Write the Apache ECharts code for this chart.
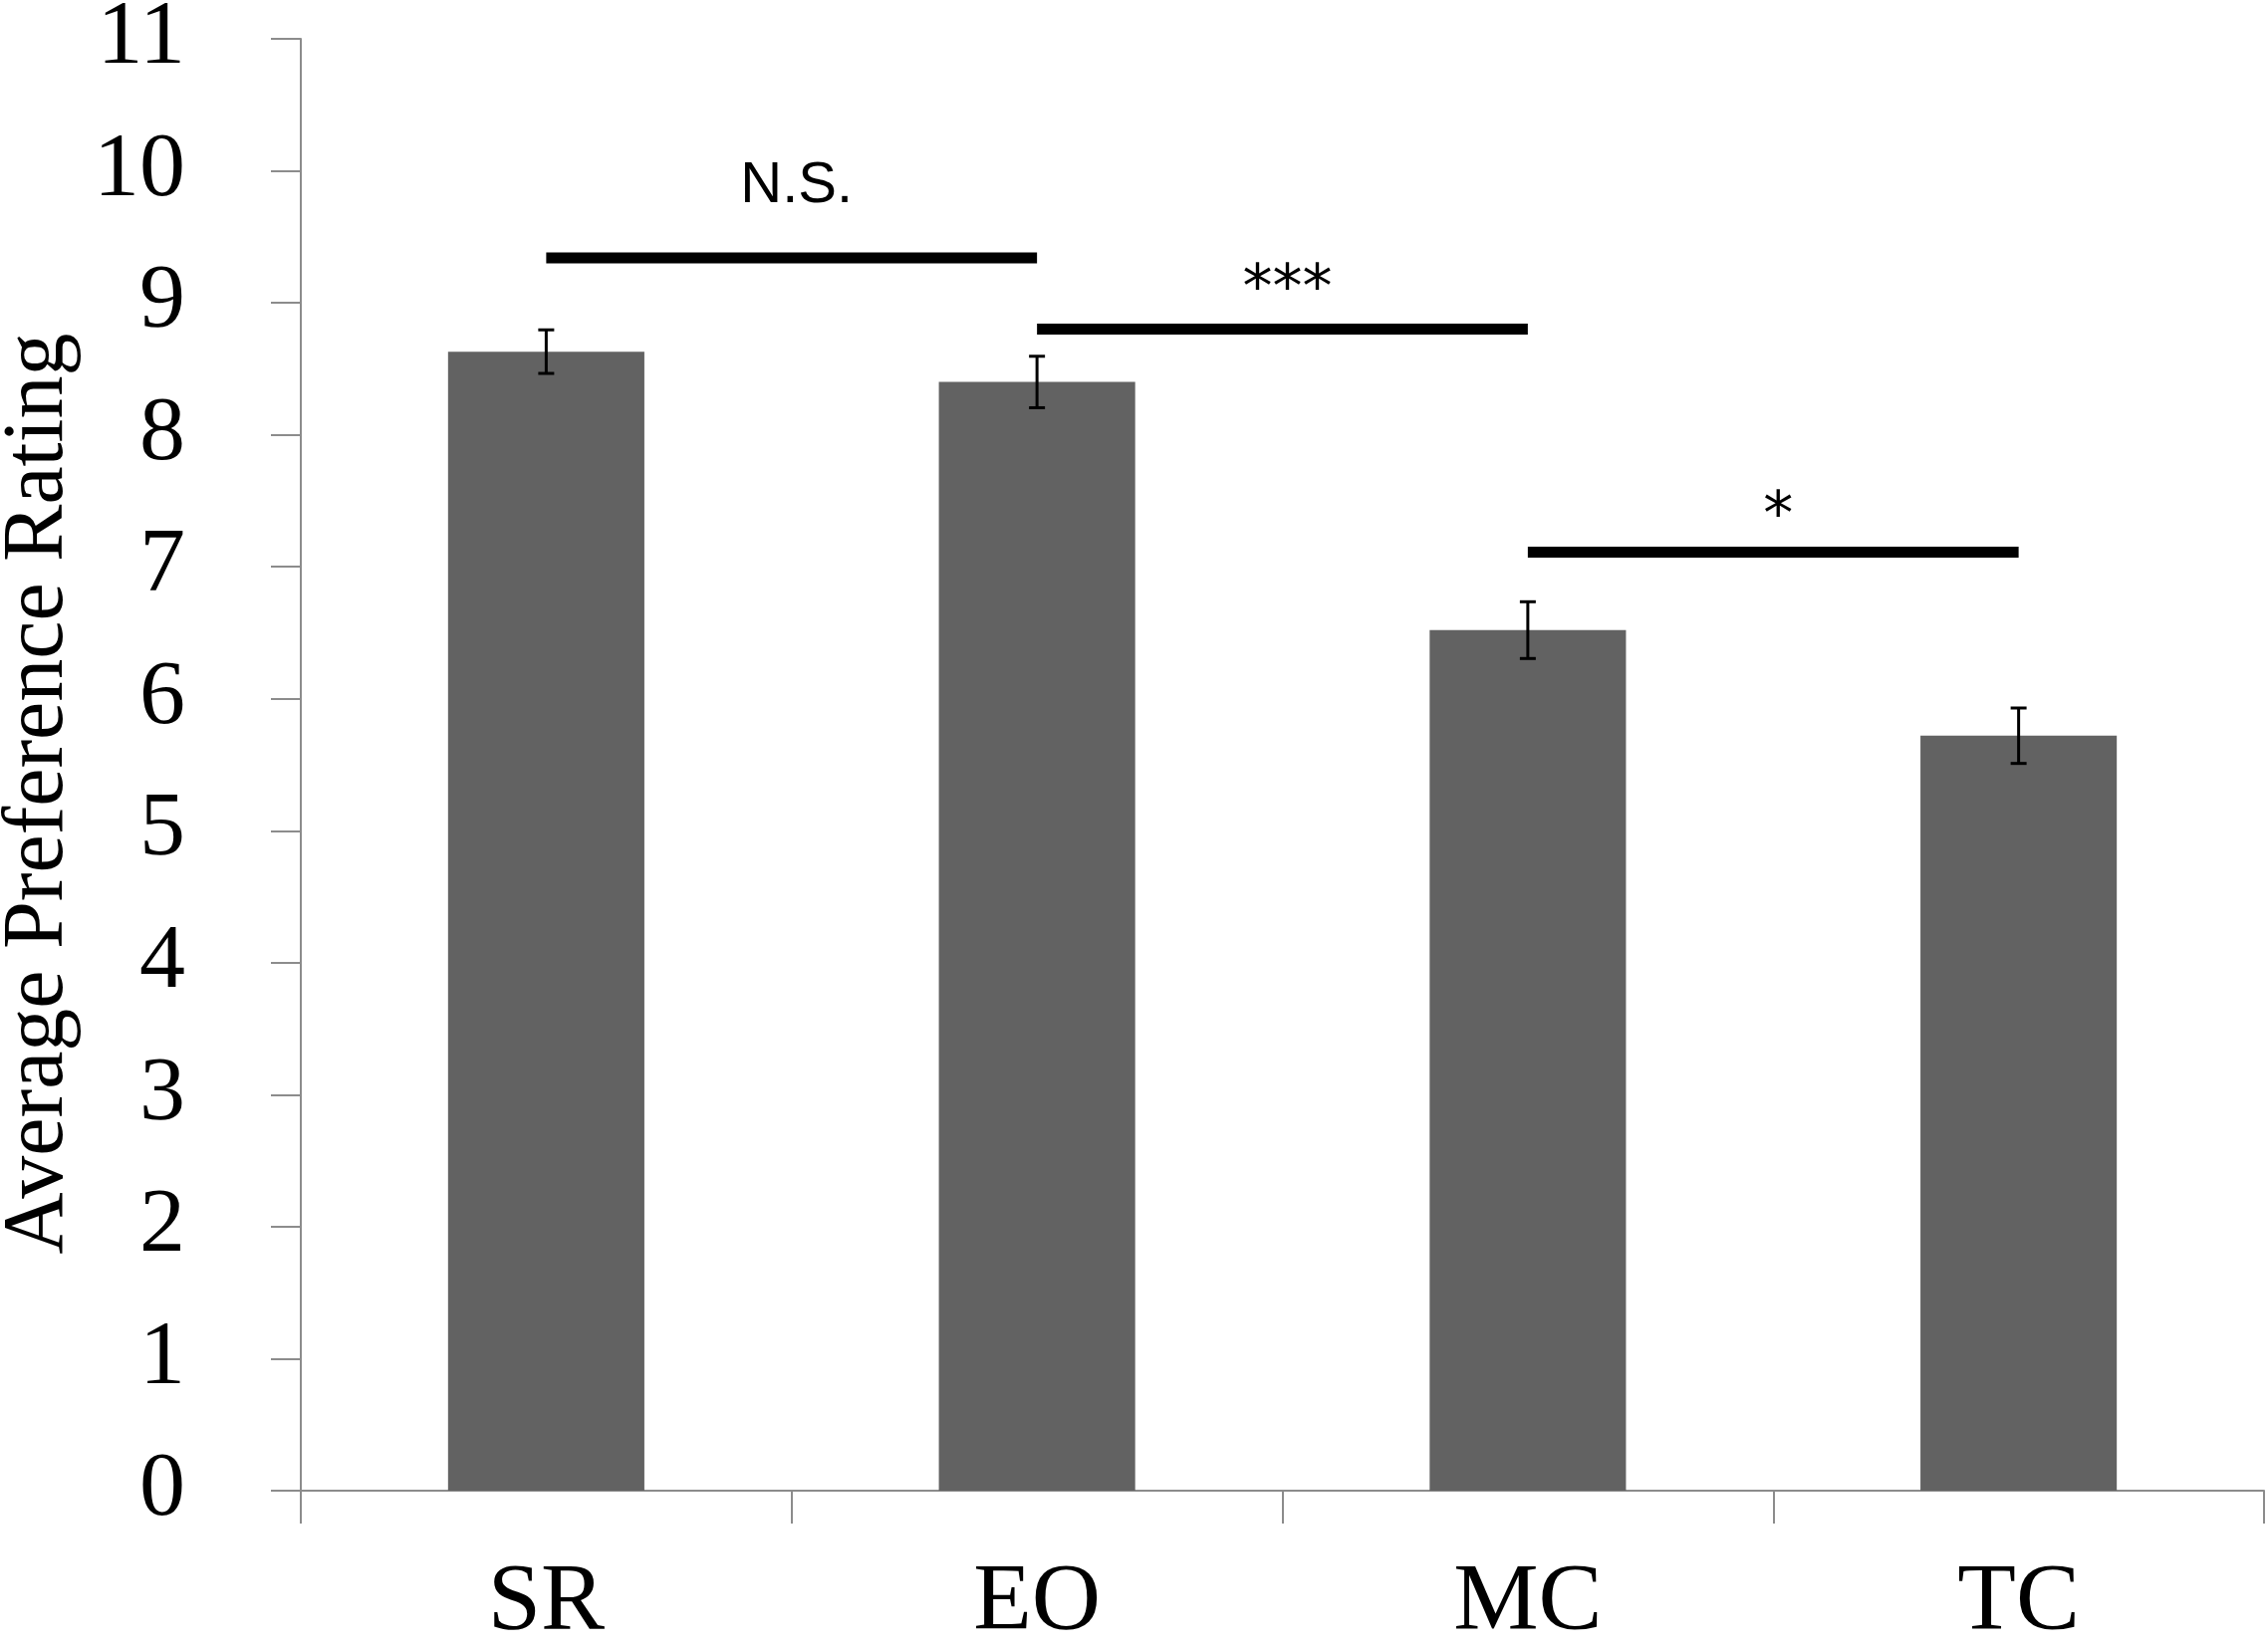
<!DOCTYPE html>
<html>
<head>
<meta charset="utf-8">
<script src="https://cdn.jsdelivr.net/npm/echarts@6/dist/echarts.min.js"></script>
<style>
html,body{margin:0;padding:0;background:#fff;}
#chart{width:2277px;height:1657px;}
</style>
</head>
<body>
<div id="chart"></div>
<script>
var categories = ['SR', 'EO', 'MC', 'TC'];
var means = [8.63, 8.40, 6.52, 5.72];
var errors = [0.165, 0.195, 0.215, 0.21];
var yTicks = [0, 1, 2, 3, 4, 5, 6, 7, 8, 9, 10, 11];
var sigFrom = ['SR', 'EO', 'MC'];
var sigTo = ['EO', 'MC', 'TC'];
var sigLineY = [9.34, 8.80, 7.11];
var sigText = ['N.S.', '***', '*'];
var sigTextY = [9.88, 9.09, 7.37];

var errData = categories.map(function (c, i) {
  return [i, means[i] - errors[i], means[i] + errors[i]];
});
var sigData = sigFrom.map(function (f, i) {
  return [categories.indexOf(f), categories.indexOf(sigTo[i]), sigLineY[i], sigTextY[i], i];
});

var chart = echarts.init(document.getElementById('chart'), null, {renderer: 'canvas'});
var serif = '"Liberation Serif", "Times New Roman", serif';
var axisGrey = '#8c8c8c';

chart.setOption({
  animation: false,
  backgroundColor: '#ffffff',
  grid: {left: 302, right: 4, top: 39, bottom: 160, containLabel: false, outerBoundsMode: 'none'},
  xAxis: {
    type: 'category',
    data: categories,
    boundaryGap: true,
    axisLine: {show: true, lineStyle: {color: axisGrey, width: 2}},
    axisTick: {show: true, alignWithLabel: false, length: 33, lineStyle: {color: axisGrey, width: 2}},
    axisLabel: {fontFamily: serif, fontSize: 96, color: '#000', margin: 66},
    splitLine: {show: false}
  },
  yAxis: {
    type: 'value',
    min: yTicks[0],
    max: yTicks[yTicks.length - 1],
    interval: 1,
    name: 'Average Preference Rating',
    nameLocation: 'middle',
    nameRotate: 90,
    nameGap: 220,
    nameTextStyle: {fontFamily: serif, fontSize: 86, color: '#000', padding: [0, 58, 0, 0]},
    axisLine: {show: true, lineStyle: {color: axisGrey, width: 2}},
    axisTick: {show: true, inside: false, length: 30, lineStyle: {color: axisGrey, width: 2}},
    axisLabel: {fontFamily: serif, fontSize: 92, color: '#000', margin: 116},
    splitLine: {show: false}
  },
  series: [
    {
      type: 'bar',
      data: means,
      barWidth: '40%',
      itemStyle: {color: '#626262'},
      z: 2
    },
    {
      type: 'custom',
      data: errData,
      z: 5,
      renderItem: function (params, api) {
        var x = api.value(0);
        var lo = api.coord([x, api.value(1)]);
        var hi = api.coord([x, api.value(2)]);
        var cw = 8;
        var st = {stroke: '#000', lineWidth: 3};
        return {
          type: 'group',
          children: [
            {type: 'line', shape: {x1: lo[0], y1: lo[1], x2: hi[0], y2: hi[1]}, style: st},
            {type: 'line', shape: {x1: hi[0] - cw, y1: hi[1], x2: hi[0] + cw, y2: hi[1]}, style: st},
            {type: 'line', shape: {x1: lo[0] - cw, y1: lo[1], x2: lo[0] + cw, y2: lo[1]}, style: st}
          ]
        };
      }
    },
    {
      type: 'custom',
      data: sigData,
      z: 5,
      renderItem: function (params, api) {
        var a = api.coord([api.value(0), api.value(2)]);
        var b = api.coord([api.value(1), api.value(2)]);
        var ty = api.coord([api.value(0), api.value(3)])[1];
        var tx = (a[0] + b[0]) / 2 + 5;
        var idx = api.value(4);
        var txt = sigText[idx];
        var isStar = txt.indexOf('*') >= 0;
        return {
          type: 'group',
          children: [
            {type: 'line', shape: {x1: a[0], y1: a[1], x2: b[0], y2: b[1]}, style: {stroke: '#000', lineWidth: 11}},
            {type: 'text', x: tx, y: ty, style: {
              text: txt, align: 'center', verticalAlign: 'middle',
              font: isStar ? '60px "DejaVu Sans", sans-serif' : '58px "Liberation Sans Narrow", "Liberation Sans", sans-serif',
              fill: '#000'
            }}
          ]
        };
      }
    }
  ]
});
</script>
</body>
</html>
